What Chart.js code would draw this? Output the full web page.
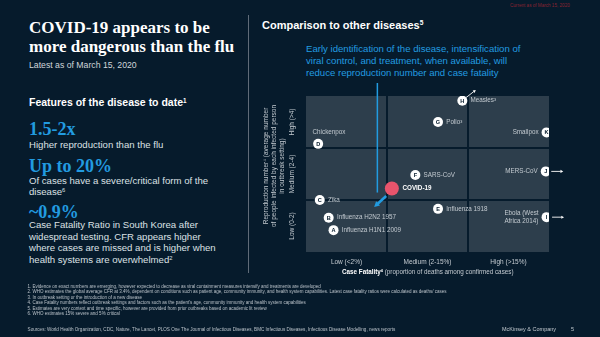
<!DOCTYPE html>
<html>
<head>
<meta charset="utf-8">
<script src="https://cdn.jsdelivr.net/npm/chart.js@4.4.0/dist/chart.umd.min.js"></script>
<style>
  html, body { margin: 0; padding: 0; }
  body { width: 600px; height: 337px; background: #061b2c; position: relative; overflow: hidden;
         font-family: "Liberation Sans", Arial, sans-serif; color: #fff; }
  #chart { position: absolute; left: 0; top: 0; }
  .t { position: absolute; white-space: nowrap; line-height: 1; }
  .serif { font-family: "Liberation Serif", "Times New Roman", serif; font-weight: bold; }
  .head { font-size: 17px; color: #fff; }
  .body { font-size: 9.6px; color: #dce1e5; line-height: 11.6px; }
  .stat { font-size: 18px; color: #229be0; }
  .blue { font-size: 9.6px; color: #229be0; line-height: 12px; }
  sup { font-size: 0.6em; line-height: 0; vertical-align: 0; position: relative; top: -0.55em; }
  .notes { font-size: 4.5px; color: #b9c1c8; line-height: 5.5px; }
  #sep { position: absolute; left: 248px; top: 15px; width: 1px; height: 258px; background: #5f6b78; }
</style>
</head>
<body>
<div class="t" style="left:510px; top:4px; font-size:4.6px; color:#8a2332;">Current as of March 15, 2020</div>

<div class="t serif head" style="left:29px; top:18.8px;">COVID-19 appears to be</div>
<div class="t serif head" style="left:29px; top:37.8px;">more dangerous than the flu</div>
<div class="t" style="left:29px; top:60.6px; font-size:8.7px; color:#d0d6db;">Latest as of March 15, 2020</div>

<div class="t" style="left:29px; top:97px; font-size:10.5px; font-weight:bold;">Features of the disease to date<sup>1</sup></div>
<div class="t serif stat" style="left:29px; top:119.9px;">1.5-2x</div>
<div class="t body" style="left:29px; top:138.5px;">Higher reproduction than the flu</div>
<div class="t serif stat" style="left:29px; top:156.6px;">Up to 20%</div>
<div class="t body" style="left:29px; top:174.5px;">Of cases have a severe/critical form of the<br>disease<sup>6</sup></div>
<div class="t serif stat" style="left:29px; top:202.9px;">~0.9%</div>
<div class="t body" style="left:29px; top:219.3px;">Case Fatality Ratio in South Korea after<br>widespread testing. CFR appears higher<br>where cases are missed and is higher when<br>health systems are overwhelmed<sup>2</sup></div>

<div id="sep"></div>

<div class="t" style="left:262px; top:20px; font-size:11px; font-weight:bold;">Comparison to other diseases<sup>5</sup></div>
<div class="t blue" style="left:306px; top:43px;">Early identification of the disease, intensification of<br>viral control, and treatment, when available, will<br>reduce reproduction number and case fatality</div>

<canvas id="chart" width="600" height="337"></canvas>

<div class="t" style="left:342px; top:269px; font-size:6.3px; color:#c3cad0;"><span style="color:#fff; font-weight:bold;">Case Fatality<sup>4</sup></span> (proportion of deaths among confirmed cases)</div>

<div class="t notes" style="left:27.6px; top:283.7px;">
1. Evidence on exact numbers are emerging, however expected to decrease as viral containment measures intensify and treatments are developed<br>
2. WHO estimates the global average CFR at 3.4%, dependent on conditions such as patient age, community immunity, and health system capabilities. Latest case fatality ratios were calculated as deaths/ cases<br>
3. In outbreak setting or the introduction of a new disease<br>
4. Case Fatality numbers reflect outbreak settings and factors such as the patient's age, community immunity and health system capabilities<br>
5. Estimates are very context and time specific, however are provided from prior outbreaks based on academic lit review<br>
6. WHO estimates 15% severe and 5% critical
</div>
<div class="t" style="left:27.6px; top:327.6px; font-size:4.6px; color:#b9c1c8;">Sources: World Health Organization, CDC, Nature, The Lancet, PLOS One The Journal of Infectious Diseases, BMC Infectious Diseases, Infectious Disease Modelling, news reports</div>
<div class="t" style="left:502px; top:327.3px; font-size:5.5px; color:#c3cad0;">McKinsey &amp; Company</div>
<div class="t" style="left:571px; top:327.3px; font-size:5.5px; color:#c3cad0;">5</div>

<script>
// diseases on the grid: case fatality (x, 0-3 = low/medium/high bands) vs reproduction number (y, bands)
const diseaseLetters = ["A", "B", "C", "D", "E", "F", "G", "H", "I", "J", "K"];
const diseaseNames = ["Influenza H1N1 2009", "Influenza H2N2 1957", "Zika", "Chickenpox", "Influenza 1918",
                      "SARS-CoV", "Polio³", "Measles³", "Ebola (West\nAfrica 2014)", "MERS-CoV", "Smallpox"];
const caseFatality = [0.34, 0.28, 0.17, 0.15, 1.63, 1.35, 1.63, 1.93, 2.97, 2.96, 2.97];
const reproductionNumber = [0.42, 0.66, 1.0, 2.08, 0.83, 1.48, 2.5, 2.91, 0.67, 1.55, 2.3];

const covidFatality = [1.06];
const covidReproduction = [1.22];

const fatalityTicks = ["Low (<2%)", "Medium (2-15%)", "High (>15%)"];
const reproductionTicks = ["Low (0-2)", "Medium (2-4)", "High (>4)"];
const reproductionTitle = ["Reproduction number⁴ (average number", "of people infected by each infected person", "in outbreak setting)"];

const bgColor = "#061b2c";
const cellColor = "#2d3e4c";
const labelColor = "#c3cad0";
const blue = "#229be0";
const sans = '"Liberation Sans", Arial, sans-serif';

// where each label sits next to its marker
const labelSide = { D: "above", I: "left", J: "left", K: "left" };
const offScale = { H: "upright", I: "right", J: "right" };

function arrow(ctx, x1, y1, x2, y2, head, color, width) {
    const ang = Math.atan2(y2 - y1, x2 - x1);
    ctx.strokeStyle = color;
    ctx.fillStyle = color;
    ctx.lineWidth = width;
    ctx.beginPath();
    ctx.moveTo(x1, y1);
    ctx.lineTo(x2 - Math.cos(ang) * head * 0.8, y2 - Math.sin(ang) * head * 0.8);
    ctx.stroke();
    ctx.beginPath();
    ctx.moveTo(x2, y2);
    ctx.lineTo(x2 - head * Math.cos(ang - 0.5), y2 - head * Math.sin(ang - 0.5));
    ctx.lineTo(x2 - head * Math.cos(ang + 0.5), y2 - head * Math.sin(ang + 0.5));
    ctx.closePath();
    ctx.fill();
}

const slideMarks = {
    id: "slideMarks",
    beforeDatasetsDraw(chart) {
        const { ctx, chartArea: a, scales: { x, y } } = chart;
        ctx.save();
        ctx.fillStyle = cellColor;
        ctx.fillRect(a.left, a.top, a.right - a.left, a.bottom - a.top);
        ctx.strokeStyle = bgColor;
        ctx.lineWidth = 2;
        [1, 2].forEach(v => {
            const px = x.getPixelForValue(v);
            const py = y.getPixelForValue(v);
            ctx.beginPath(); ctx.moveTo(px, a.top); ctx.lineTo(px, a.bottom); ctx.stroke();
            ctx.beginPath(); ctx.moveTo(a.left, py); ctx.lineTo(a.right, py); ctx.stroke();
        });

        // rotated y tick labels and title
        ctx.fillStyle = labelColor;
        ctx.textAlign = "center";
        ctx.textBaseline = "middle";
        ctx.font = "6.5px " + sans;
        reproductionTicks.forEach((label, i) => {
            ctx.save();
            ctx.translate(a.left - 13.3, y.getPixelForValue(i + 0.5));
            ctx.rotate(-Math.PI / 2);
            ctx.fillText(label, 0, 0);
            ctx.restore();
        });
        reproductionTitle.forEach((line, i) => {
            ctx.save();
            ctx.translate(a.left - 40 + i * 8, (a.top + a.bottom) / 2 - 8);
            ctx.rotate(-Math.PI / 2);
            ctx.fillText(line, 0, 0);
            ctx.restore();
        });

        // callout from the blue text down to COVID-19
        const c = chart.getDatasetMeta(1).data[0];
        ctx.strokeStyle = blue;
        ctx.lineWidth = 1.5;
        ctx.beginPath();
        ctx.moveTo(c.x - 14.5, 83);
        ctx.lineTo(c.x - 14.5, c.y + 4);
        ctx.stroke();
        arrow(ctx, c.x - 5.7, c.y + 7.4, c.x - 17.7, c.y + 18.4, 6, blue, 2.6);
        ctx.restore();
    },
    afterDatasetsDraw(chart) {
        const { ctx } = chart;
        const meta = chart.getDatasetMeta(0);
        ctx.save();
        meta.data.forEach((p, i) => {
            const letter = diseaseLetters[i];
            ctx.fillStyle = bgColor;
            ctx.font = "bold 5.6px " + sans;
            ctx.textAlign = "center";
            ctx.textBaseline = "middle";
            ctx.fillText(letter, p.x, p.y + 0.3);

            ctx.fillStyle = labelColor;
            ctx.font = "6.3px " + sans;
            const lines = diseaseNames[i].split("\n");
            const side = labelSide[letter] || "right";
            if (side === "right") {
                ctx.textAlign = "left";
                ctx.fillText(lines[0], p.x + 8.2, p.y);
            } else if (side === "above") {
                ctx.textAlign = "left";
                ctx.fillText(lines[0], p.x - 5.6, p.y - 11.7);
            } else {
                const w = Math.max(...lines.map(l => ctx.measureText(l).width));
                const lh = 7.7;
                ctx.textAlign = "left";
                lines.forEach((l, k) => {
                    ctx.fillText(l, p.x - 8 - w, p.y + (k - (lines.length - 1) / 2) * lh);
                });
            }

            const dir = offScale[letter];
            if (dir === "right") {
                arrow(ctx, p.x + 5.5, p.y, p.x + 17.5, p.y, 3.2, "#ffffff", 0.9);
            } else if (dir === "upright") {
                arrow(ctx, p.x + 4, p.y - 3.3, p.x + 13.5, p.y - 10.7, 3.2, "#ffffff", 0.9);
            }
        });

        const c = chart.getDatasetMeta(1).data[0];
        ctx.fillStyle = "#ffffff";
        ctx.font = "bold 6.3px " + sans;
        ctx.textAlign = "left";
        ctx.textBaseline = "middle";
        ctx.fillText("COVID-19", c.x + 10.6, c.y);
        ctx.restore();
    }
};

new Chart(document.getElementById("chart"), {
    type: "scatter",
    data: {
        datasets: [
            {
                data: caseFatality.map((v, i) => ({ x: v, y: reproductionNumber[i] })),
                pointRadius: 5,
                pointBackgroundColor: "#ffffff",
                pointBorderWidth: 0
            },
            {
                data: covidFatality.map((v, i) => ({ x: v, y: covidReproduction[i] })),
                pointRadius: 7,
                pointBackgroundColor: "#e8546c",
                pointBorderWidth: 0
            }
        ]
    },
    options: {
        responsive: false,
        animation: false,
        layout: { padding: { left: 250, right: 51, top: 96, bottom: 52 } },
        plugins: { legend: { display: false }, tooltip: { enabled: false } },
        scales: {
            x: {
                type: "linear", min: 0, max: 3,
                grid: { display: false, drawTicks: false },
                border: { display: false },
                afterBuildTicks: s => { s.ticks = fatalityTicks.map((l, i) => ({ value: i + 0.5 })); },
                ticks: {
                    callback: (v, i) => fatalityTicks[i],
                    color: labelColor, font: { size: 6.5, family: sans },
                    padding: 6, maxRotation: 0, autoSkip: false
                },
                afterFit: s => { s.height = 33; }
            },
            y: {
                type: "linear", min: 0, max: 3,
                grid: { display: false, drawTicks: false },
                border: { display: false },
                ticks: { display: false },
                afterFit: s => { s.width = 56; }
            }
        }
    },
    plugins: [slideMarks]
});
</script>
</body>
</html>
